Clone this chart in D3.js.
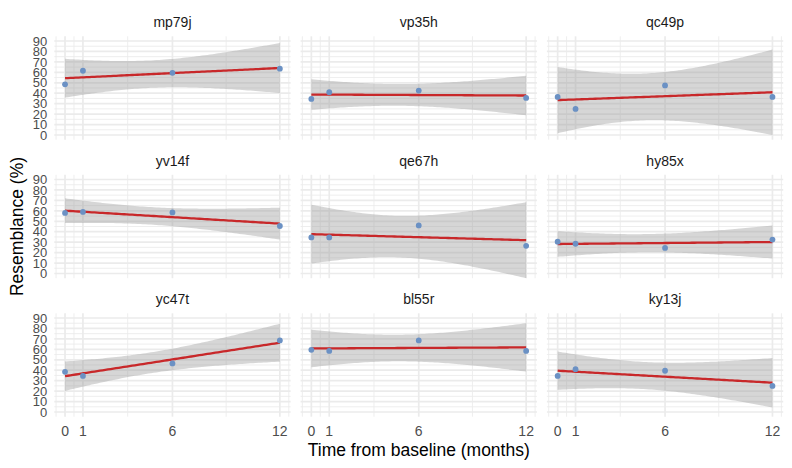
<!DOCTYPE html>
<html><head><meta charset="utf-8">
<script src="https://cdn.jsdelivr.net/npm/d3@7"></script>
<style>body{margin:0;background:#fff}svg{display:block}text{font-family:"Liberation Sans",Arial,sans-serif}</style>
</head><body>
<svg id="c" width="792" height="468"></svg>
<script>
// ---- data ----
const panelNames = ["mp79j","vp35h","qc49p","yv14f","qe67h","hy85x","yc47t","bl55r","ky13j"];
const months = [0, 1, 6, 12];
const mp79j = [48.5, 61.5, 59.5, 63.5];
const vp35h = [34.5, 41, 42.5, 35.5];
const qc49p = [36.5, 25, 47.5, 36.5];
const yv14f = [58, 59, 58.5, 45.5];
const qe67h = [34.5, 34.5, 46, 26.5];
const hy85x = [30.5, 28.5, 24.5, 32.5];
const yc47t = [38.5, 34.5, 46.5, 68.5];
const bl55r = [59.5, 58.5, 68.5, 58.5];
const ky13j = [34.5, 41, 39.5, 25];
const seriesByPanel = {mp79j, vp35h, qc49p, yv14f, qe67h, hy85x, yc47t, bl55r, ky13j};
const xTicks = [0, 1, 6, 12];
const xMinor = [-0.5, 0.5, 3.5, 9, 12.5];
const yTicks = [0, 10, 20, 30, 40, 50, 60, 70, 80, 90];
const yMinor = [5, 15, 25, 35, 45, 55, 65, 75, 85];
const tQuant = 4.302653; // qt(0.975, df = 2)

// ---- layout ----
const svg = d3.select("#c");
const L = 54.3, W = 236.3, gapX = 10, tops = [36.3, 174.8, 313.3], H = 103.4;
const xDom = [-0.6, 12.6], yDom = [-4.5, 94.5];

function lmBand(xs, ys) {
  const n = xs.length, xm = d3.mean(xs), ym = d3.mean(ys);
  const sxx = d3.sum(xs, x => (x - xm) ** 2);
  const sxy = d3.sum(xs.map((x, i) => (x - xm) * (ys[i] - ym)));
  const b = sxy / sxx, a = ym - b * xm;
  const sse = d3.sum(xs.map((x, i) => (ys[i] - a - b * x) ** 2));
  const s = Math.sqrt(sse / (n - 2));
  const grid = d3.range(81).map(i => d3.min(xs) + i * (d3.max(xs) - d3.min(xs)) / 80);
  return grid.map(x => {
    const f = a + b * x, se = s * Math.sqrt(1 / n + (x - xm) ** 2 / sxx);
    return {x, f, lo: f - tQuant * se, hi: f + tQuant * se};
  });
}

panelNames.forEach((name, i) => {
  const col = i % 3, row = Math.floor(i / 3);
  const x0 = L + col * (W + gapX), y0 = tops[row];
  const xs = d3.scaleLinear().domain(xDom).range([x0, x0 + W]);
  const ys = d3.scaleLinear().domain(yDom).range([y0 + H, y0]);
  const g = svg.append("g");
  const clipId = "clip" + i;
  svg.append("clipPath").attr("id", clipId).append("rect")
    .attr("x", x0).attr("y", y0).attr("width", W).attr("height", H);

  // grid
  g.selectAll(".ymn").data(yMinor).join("line")
    .attr("x1", x0).attr("x2", x0 + W).attr("y1", d => ys(d)).attr("y2", d => ys(d))
    .attr("stroke", "#ebebeb").attr("stroke-width", 0.85);
  g.selectAll(".xmn").data(xMinor).join("line")
    .attr("y1", y0).attr("y2", y0 + H).attr("x1", d => xs(d)).attr("x2", d => xs(d))
    .attr("stroke", "#ebebeb").attr("stroke-width", 0.85);
  g.selectAll(".ymj").data(yTicks).join("line")
    .attr("x1", x0).attr("x2", x0 + W).attr("y1", d => ys(d)).attr("y2", d => ys(d))
    .attr("stroke", "#ebebeb").attr("stroke-width", 1.7);
  g.selectAll(".xmj").data(xTicks).join("line")
    .attr("y1", y0).attr("y2", y0 + H).attr("x1", d => xs(d)).attr("x2", d => xs(d))
    .attr("stroke", "#ebebeb").attr("stroke-width", 1.7);

  const vals = seriesByPanel[name];
  const band = lmBand(months, vals);
  const gc = g.append("g").attr("clip-path", `url(#${clipId})`);
  gc.append("path").datum(band)
    .attr("d", d3.area().x(d => xs(d.x)).y0(d => ys(d.lo)).y1(d => ys(d.hi)))
    .attr("fill", "#999999").attr("fill-opacity", 0.4);
  gc.append("path").datum(band)
    .attr("d", d3.line().x(d => xs(d.x)).y(d => ys(d.f)))
    .attr("fill", "none").attr("stroke", "#c8282a").attr("stroke-width", 2.3);
  gc.selectAll("circle").data(months.map((m, k) => [m, vals[k]])).join("circle")
    .attr("cx", d => xs(d[0])).attr("cy", d => ys(d[1])).attr("r", 2.9)
    .attr("fill", "#6b91c4");

  // strip
  svg.append("text").attr("x", x0 + W / 2).attr("y", y0 - 9).attr("text-anchor", "middle")
    .attr("font-size", 14).attr("fill", "#1a1a1a").text(name);

  if (col === 0) {
    svg.selectAll(null).data(yTicks).join("text")
      .attr("x", x0 - 7).attr("y", d => ys(d) + 4.7).attr("text-anchor", "end")
      .attr("font-size", 13).attr("fill", "#4d4d4d").text(d => d);
  }
  if (row === 2) {
    svg.selectAll(null).data(xTicks).join("text")
      .attr("x", d => xs(d)).attr("y", y0 + H + 19).attr("text-anchor", "middle")
      .attr("font-size", 14).attr("fill", "#4d4d4d").text(d => d);
  }
});

// axis titles
const plotMid = L + (3 * W + 2 * gapX) / 2;
svg.append("text").attr("x", plotMid).attr("y", 456).attr("text-anchor", "middle")
  .attr("font-size", 17.5).attr("fill", "#000").text("Time from baseline (months)");
svg.append("text").attr("transform", `translate(23,${(tops[0] + tops[2] + H) / 2}) rotate(-90)`)
  .attr("text-anchor", "middle").attr("font-size", 17.5).attr("fill", "#000").text("Resemblance (%)");
</script>
</body></html>
